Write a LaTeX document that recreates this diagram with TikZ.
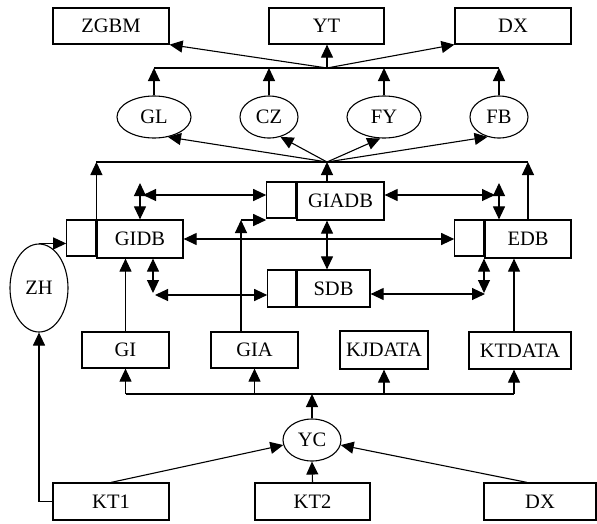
\documentclass[tikz,border=0pt]{standalone}
\usepackage{fontspec}
\setmainfont{Liberation Serif}
\usetikzlibrary{
  arrows.meta,
  positioning,
  shapes.geometric
}

\begin{document}
\begin{tikzpicture}[
  x=1pt, y=-1pt,
  box/.style={rectangle, draw, line width=1.2pt, inner sep=0pt, font=\fontsize{20.5}{22}\selectfont, minimum height=36pt},
  tab/.style={rectangle, draw, line width=1.2pt, inner sep=0pt, minimum width=29pt, minimum height=36pt},
  ell/.style={ellipse, draw, line width=1.1pt, inner sep=0pt, font=\fontsize{20.5}{22}\selectfont, minimum height=42pt},
  arr/.style={-{Triangle[length=13pt, width=12pt]}, line width=1.1pt},
  darr/.style={{Triangle[length=13pt, width=12pt]}-{Triangle[length=13pt, width=12pt]}, line width=1.1pt},
]
\useasboundingbox (0,0) rectangle (597,523);

% Outputs (top)
\node[box, minimum width=116pt] (zgbm) at (111,26) {ZGBM};
\node[box, minimum width=115pt] (yt) at (326.5,26) {YT};
\node[box, minimum width=116pt] (dxtop) at (513,26) {DX};

% Functions (ellipses)
\node[ell, minimum width=74pt] (gl) at (154,117) {GL};
\node[ell, minimum width=58pt] (cz) at (269,117) {CZ};
\node[ell, minimum width=74pt] (fy) at (384,117) {FY};
\node[ell, minimum width=58pt] (fb) at (499,117) {FB};

% Databases
\node[box, minimum width=86pt, minimum height=38pt] (gidb) at (140,239) {GIDB};
\node[tab, anchor=north east] (gidbtab) at (gidb.north west) {};
\node[box, minimum width=87pt, minimum height=38pt] (giadb) at (340.5,201) {GIADB};
\node[tab, anchor=north east] (giadbtab) at (giadb.north west) {};
\node[box, minimum width=73pt, minimum height=37pt] (sdb) at (333.5,288.5) {SDB};
\node[tab, minimum width=28pt, minimum height=37pt, anchor=north east] (sdbtab) at (sdb.north west) {};
\node[box, minimum width=86pt, minimum height=38pt] (edb) at (528,239) {EDB};
\node[tab, anchor=north east] (edbtab) at (edb.north west) {};

\node[ell, minimum width=58pt, minimum height=88pt] (zh) at (39,288) {ZH};

% Data sources
\node[box, minimum width=87pt] (gi) at (125.5,350) {GI};
\node[box, minimum width=87pt] (gia) at (254.5,350) {GIA};
\node[box, minimum width=88pt, minimum height=38pt] (kjdata) at (384,350) {KJDATA};
\node[box, minimum width=102pt, minimum height=37pt] (ktdata) at (520,350.5) {KTDATA};

\node[ell, minimum width=58pt] (yc) at (312,440) {YC};

% Inputs (bottom)
\node[box, minimum width=116pt, minimum height=37pt] (kt1) at (111,501.5) {KT1};
\node[box, minimum width=115pt, minimum height=37pt] (kt2) at (312.5,501.5) {KT2};
\node[box, minimum width=112pt, minimum height=37pt] (dxbot) at (540,501.5) {DX};

% Bend points
\coordinate (ubus) at (327,68);
\coordinate (mbus) at (327,162);
\coordinate (lbus) at (312,394);
\coordinate (kgv) at (140,183);
\coordinate (kgh) at (143,195);
\coordinate (kev) at (499,183);
\coordinate (keh) at (495,195);
\coordinate (ksv) at (153,293);
\coordinate (ksh) at (155,295);
\coordinate (ktv) at (484,293);
\coordinate (kth) at (485,294);
\coordinate (gik) at (241,220);
\coordinate (ktx) at ([xshift=-6pt]ktdata.north);
\coordinate (dxk) at ([xshift=-13pt]dxbot.north);

% Ellipses -> outputs
\draw[line width=1.1pt] (gl.north |- ubus) -- (fb.north |- ubus);
\foreach \e in {gl,cz,fy,fb}
  \draw[arr] (\e.north) -- (\e.north |- ubus);
\draw[arr] (ubus) -- (ubus |- yt.south);
\draw[arr] (ubus) -- (zgbm.south east);
\draw[arr] (ubus) -- (dxtop.south west);

% Databases -> ellipses
\draw[line width=1.1pt] (gidb.north west |- mbus) -- (edb.north |- mbus);
\draw[arr] (gidb.north west) -- (gidb.north west |- mbus);
\draw[arr] (edb.north) -- (edb.north |- mbus);
\draw[arr] (mbus |- giadb.north) -- (mbus);
\draw[arr] (mbus) -- (gl.-55);
\draw[arr] (mbus) -- (cz.-60);
\draw[arr] (mbus) -- (fy.-100);
\draw[arr] (mbus) -- (fb.-120);

% Links between databases
\draw[darr] (kgv) -- (gidb.north);
\draw[darr] (kgh) -- (kgh -| giadbtab.west);
\draw[darr] (giadb.east |- keh) -- (keh);
\draw[darr] (kev) -- (kev |- edb.north);
\draw[darr] (ksv |- gidb.south) -- (ksv);
\draw[darr] (ksh) -- (ksh -| sdbtab.west);
\draw[darr] (sdb.east |- kth) -- (kth);
\draw[darr] (ktv |- edb.south) -- (ktv);
\draw[darr] (gidb.east) -- (edbtab.west |- gidb.east);
\draw[darr] (mbus |- giadb.south) -- (mbus |- sdb.north);

% ZH
\draw[arr] (zh.north) -- (zh.north -| gidbtab.west);
\draw[arr] (kt1.west) -| (zh.south);

% Data sources -> databases
\draw[arr] (gi.north) -- (gi.north |- gidb.south);
\draw[arr] (gik |- gia.north) -- (gik);
\draw[arr] (gik) -- (gik -| giadbtab.west);
\draw[arr] (ktx) -- (ktx |- edb.south);

% YC -> data sources
\draw[line width=1.1pt] (gi.south |- lbus) -- (ktx |- lbus);
\draw[arr] (yc.north) -- (lbus);
\foreach \b in {gi,gia,kjdata}
  \draw[arr] (\b.south |- lbus) -- (\b.south);
\draw[arr] (ktx |- lbus) -- (ktx |- ktdata.south);

% Inputs -> YC
\draw[arr] (kt1.north) -- (yc.190);
\draw[arr] (kt2.north) -- (yc.south);
\draw[arr] (dxk) -- (yc.-10);

\end{tikzpicture}
\end{document}
